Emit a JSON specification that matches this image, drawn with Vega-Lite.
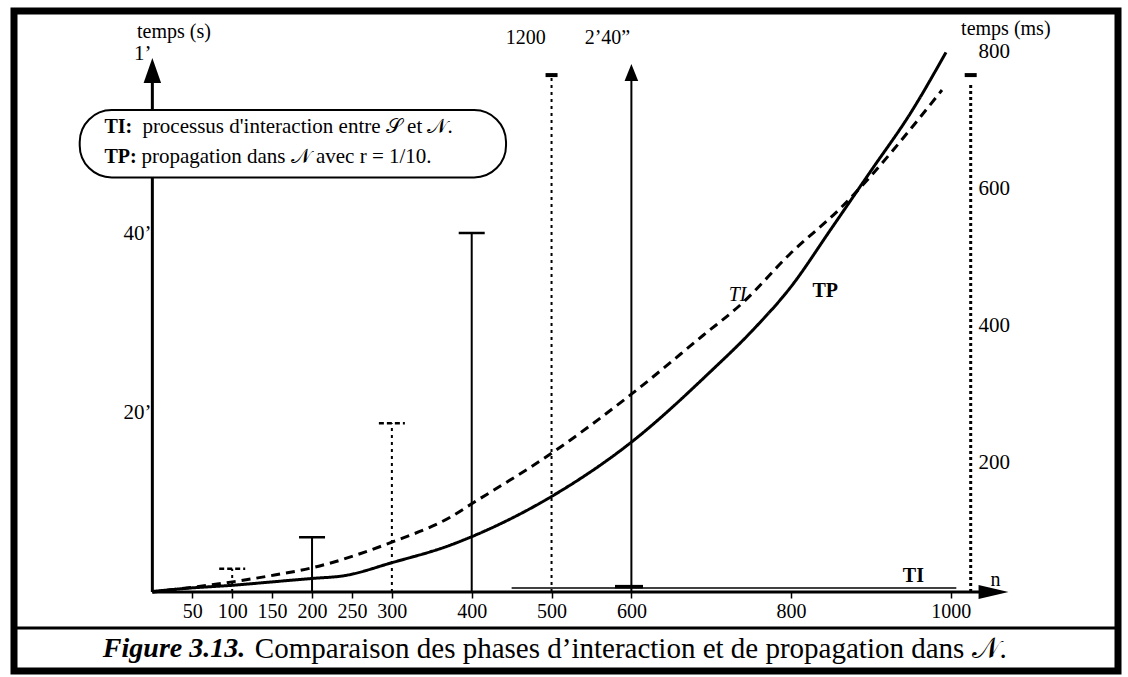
{
  "$schema": "https://vega.github.io/schema/vega-lite/v6.json",
  "width": 1128,
  "height": 677,
  "autosize": {"type": "fit", "contains": "padding"},
  "padding": {"left": 11, "top": 11, "right": 8, "bottom": 6},
  "background": "white",
  "config": {
    "view": {"stroke": "black", "strokeWidth": 7},
    "axis": {"labelFont": "Liberation Serif", "labelColor": "black", "labelFontSize": 20, "grid": false},
    "text": {"font": "Liberation Serif", "fontSize": 20, "color": "black"}
  },
  "datasets": {
    "bars": [
      {"n": 100, "base": 0, "top": 2.6, "kind": "TI"},
      {"n": 200, "base": 0, "top": 6.1, "kind": "TP"},
      {"n": 300, "base": 0, "top": 18.8, "kind": "TI"},
      {"n": 400, "base": 0, "top": 40.0, "kind": "TP"},
      {"n": 500, "base": 0, "top": 57.3, "kind": "TI"},
      {"n": 600, "base": 0, "top": 57.0, "kind": "TP"}
    ],
    "caps": [
      {"n": 100, "v": 2.6, "kind": "TI"},
      {"n": 200, "v": 6.1, "kind": "TP"},
      {"n": 300, "v": 18.8, "kind": "TI"},
      {"n": 400, "v": 40.0, "kind": "TP"}
    ],
    "topcaps": [{"n": 500, "v": 57.6}, {"n": 1025, "v": 57.6}],
    "curves": [
      {"n": 0, "ms": 11, "series": "TP"}, {"n": 47, "ms": 16, "series": "TP"},
      {"n": 100, "ms": 20, "series": "TP"}, {"n": 150, "ms": 25, "series": "TP"}, {"n": 200, "ms": 30, "series": "TP"},
      {"n": 240, "ms": 34, "series": "TP"}, {"n": 300, "ms": 53, "series": "TP"}, {"n": 374, "ms": 79, "series": "TP"},
      {"n": 400, "ms": 91, "series": "TP"}, {"n": 499, "ms": 149, "series": "TP"}, {"n": 600, "ms": 229, "series": "TP"},
      {"n": 700, "ms": 333, "series": "TP"}, {"n": 750, "ms": 390, "series": "TP"}, {"n": 800, "ms": 456, "series": "TP"},
      {"n": 850, "ms": 540, "series": "TP"}, {"n": 900, "ms": 625, "series": "TP"}, {"n": 950, "ms": 710, "series": "TP"},
      {"n": 994, "ms": 798, "series": "TP"},
      {"n": 0, "ms": 10, "series": "TI"}, {"n": 21, "ms": 13, "series": "TI"}, {"n": 100, "ms": 25, "series": "TI"},
      {"n": 153, "ms": 35, "series": "TI"}, {"n": 198, "ms": 45, "series": "TI"}, {"n": 300, "ms": 83, "series": "TI"},
      {"n": 374, "ms": 120, "series": "TI"}, {"n": 400, "ms": 139, "series": "TI"}, {"n": 499, "ms": 212, "series": "TI"},
      {"n": 600, "ms": 299, "series": "TI"}, {"n": 690, "ms": 385, "series": "TI"}, {"n": 739, "ms": 432, "series": "TI"},
      {"n": 798, "ms": 503, "series": "TI"}, {"n": 864, "ms": 573, "series": "TI"}, {"n": 898, "ms": 615, "series": "TI"},
      {"n": 951, "ms": 688, "series": "TI"}, {"n": 989, "ms": 743, "series": "TI"}
    ]
  },
  "resolve": {"scale": {"x": "independent", "y": "independent", "strokeDash": "independent"}, "axis": {"x": "independent", "y": "independent"}},
  "layer": [
    {
      "data": {"values": [{"n": 0, "v0": 0, "v1": 58}]},
      "mark": {"type": "rule", "strokeWidth": 3, "color": "black"},
      "encoding": {
        "x": {"field": "n", "type": "quantitative", "scale": {"domain": [-173.3, 1209.5], "nice": false, "zero": false},
          "axis": {"orient": "bottom", "offset": -79, "values": [50, 100, 150, 200, 250, 300, 400, 500, 600, 800, 1000], "format": "d",
            "domain": false, "ticks": true, "tickSize": 6, "tickWidth": 1.5, "tickColor": "black", "labelPadding": 3, "labelOverlap": false, "labelFlush": false, "title": null}},
        "y": {"field": "v0", "type": "quantitative", "scale": {"domain": [-8.8, 64.74], "nice": false, "zero": false},
          "axis": {"orient": "left", "offset": -139, "values": [20, 40, 60], "labelExpr": "datum.value == 60 ? '1’' : datum.value + '’'",
            "domain": false, "ticks": false, "labelPadding": 2, "labelFontSize": 21, "labelOverlap": false, "title": null}},
        "y2": {"field": "v1"}
      }
    },
    {
      "data": {"name": "bars"},
      "mark": {"type": "rule", "strokeWidth": 2, "color": "black"},
      "encoding": {
        "x": {"field": "n", "type": "quantitative", "scale": {"domain": [-173.3, 1209.5], "nice": false, "zero": false}, "axis": null},
        "y": {"field": "base", "type": "quantitative", "scale": {"domain": [-8.8, 64.74], "nice": false, "zero": false}, "axis": null},
        "y2": {"field": "top"},
        "strokeDash": {"field": "kind", "type": "nominal", "scale": {"domain": ["TI", "TP"], "range": [[3, 4], [1, 0]]}, "legend": null}
      }
    },
    {
      "data": {"name": "caps"},
      "mark": {"type": "point", "shape": "M-1,0L1,0", "size": 676, "filled": false, "strokeWidth": 2.5, "stroke": "black", "opacity": 1},
      "encoding": {
        "x": {"field": "n", "type": "quantitative", "scale": {"domain": [-173.3, 1209.5], "nice": false, "zero": false}, "axis": null},
        "y": {"field": "v", "type": "quantitative", "scale": {"domain": [-8.8, 64.74], "nice": false, "zero": false}, "axis": null},
        "strokeDash": {"field": "kind", "type": "nominal", "scale": {"domain": ["TI", "TP"], "range": [[5, 3], [1, 0]]}, "legend": null}
      }
    },
    {
      "data": {"name": "topcaps"},
      "mark": {"type": "point", "shape": "M-1,0L1,0", "size": 144, "filled": false, "strokeWidth": 4, "stroke": "black", "opacity": 1},
      "encoding": {
        "x": {"field": "n", "type": "quantitative", "scale": {"domain": [-173.3, 1209.5], "nice": false, "zero": false}, "axis": null},
        "y": {"field": "v", "type": "quantitative", "scale": {"domain": [-8.8, 64.74], "nice": false, "zero": false}, "axis": null}
      }
    },
    {
      "data": {"values": [{"n": 1025, "v0": 0, "v1": 56.5}]},
      "mark": {"type": "rule", "strokeWidth": 3, "strokeDash": [3, 3], "color": "black"},
      "encoding": {
        "x": {"field": "n", "type": "quantitative", "scale": {"domain": [-173.3, 1209.5], "nice": false, "zero": false}, "axis": null},
        "y": {"field": "v0", "type": "quantitative", "scale": {"domain": [-8.8, 64.74], "nice": false, "zero": false}, "axis": null},
        "y2": {"field": "v1"}
      }
    },
    {
      "data": {"values": [{"x0": 0, "x1": 1050, "v": 0}]},
      "mark": {"type": "rule", "strokeWidth": 3, "color": "black"},
      "encoding": {
        "x": {"field": "x0", "type": "quantitative", "scale": {"domain": [-173.3, 1209.5], "nice": false, "zero": false}, "axis": null},
        "x2": {"field": "x1"},
        "y": {"field": "v", "type": "quantitative", "scale": {"domain": [-8.8, 64.74], "nice": false, "zero": false}, "axis": null}
      }
    },
    {
      "data": {"values": [{"n": 1053.6, "v": 0}]},
      "mark": {"type": "point", "shape": "M-1,-0.47L1,0L-1,0.47Z", "size": 900, "filled": true, "color": "black", "opacity": 1},
      "encoding": {
        "x": {"field": "n", "type": "quantitative", "scale": {"domain": [-173.3, 1209.5], "nice": false, "zero": false}, "axis": null},
        "y": {"field": "v", "type": "quantitative", "scale": {"domain": [-8.8, 64.74], "nice": false, "zero": false}, "axis": null}
      }
    },
    {
      "data": {"values": [{"n": 0, "v": 58.1}]},
      "mark": {"type": "point", "shape": "M0,-1L0.7,1L-0.7,1Z", "size": 625, "filled": true, "color": "black", "opacity": 1},
      "encoding": {
        "x": {"field": "n", "type": "quantitative", "scale": {"domain": [-173.3, 1209.5], "nice": false, "zero": false}, "axis": null},
        "y": {"field": "v", "type": "quantitative", "scale": {"domain": [-8.8, 64.74], "nice": false, "zero": false}, "axis": null}
      }
    },
    {
      "data": {"values": [{"n": 600, "v": 57.9}]},
      "mark": {"type": "point", "shape": "M0,-1L0.8,1L-0.8,1Z", "size": 289, "filled": true, "color": "black", "opacity": 1},
      "encoding": {
        "x": {"field": "n", "type": "quantitative", "scale": {"domain": [-173.3, 1209.5], "nice": false, "zero": false}, "axis": null},
        "y": {"field": "v", "type": "quantitative", "scale": {"domain": [-8.8, 64.74], "nice": false, "zero": false}, "axis": null}
      }
    },
    {
      "data": {"values": [{"n": 450, "v": 0.45}, {"n": 1007, "v": 0.45}]},
      "mark": {"type": "line", "strokeWidth": 1.5, "color": "black"},
      "encoding": {
        "x": {"field": "n", "type": "quantitative", "scale": {"domain": [-173.3, 1209.5], "nice": false, "zero": false}, "axis": null},
        "y": {"field": "v", "type": "quantitative", "scale": {"domain": [-8.8, 64.74], "nice": false, "zero": false}, "axis": null}
      }
    },
    {
      "data": {"values": [{"n": 597, "v": 0.6}]},
      "mark": {"type": "point", "shape": "M-1,0L1,0", "size": 784, "filled": false, "strokeWidth": 3.5, "stroke": "black", "opacity": 1},
      "encoding": {
        "x": {"field": "n", "type": "quantitative", "scale": {"domain": [-173.3, 1209.5], "nice": false, "zero": false}, "axis": null},
        "y": {"field": "v", "type": "quantitative", "scale": {"domain": [-8.8, 64.74], "nice": false, "zero": false}, "axis": null}
      }
    },
    {
      "data": {"values": [{"x0": -91, "x1": 443, "v0": 53.7, "v1": 46.2}]},
      "mark": {"type": "rect", "cornerRadius": 32, "fill": "white", "stroke": "black", "strokeWidth": 2},
      "encoding": {
        "x": {"field": "x0", "type": "quantitative", "scale": {"domain": [-173.3, 1209.5], "nice": false, "zero": false}, "axis": null},
        "x2": {"field": "x1"},
        "y": {"field": "v0", "type": "quantitative", "scale": {"domain": [-8.8, 64.74], "nice": false, "zero": false}, "axis": null},
        "y2": {"field": "v1"}
      }
    },
    {
      "data": {"values": [{"n": -60, "v": 51.8, "t": "TI:"}, {"n": -60, "v": 48.5, "t": "TP:"}, {"n": 826.7, "v": 33.5, "t": "TP"}, {"n": 940, "v": 1.8, "t": "TI"}]},
      "mark": {"type": "text", "align": "left", "baseline": "middle", "fontWeight": "bold", "fontSize": 20},
      "encoding": {
        "x": {"field": "n", "type": "quantitative", "scale": {"domain": [-173.3, 1209.5], "nice": false, "zero": false}, "axis": null},
        "y": {"field": "v", "type": "quantitative", "scale": {"domain": [-8.8, 64.74], "nice": false, "zero": false}, "axis": null},
        "text": {"field": "t"}
      }
    },
    {
      "data": {"values": [
        {"n": -12.5, "v": 51.8, "t": "processus d'interaction entre 𝒮 et 𝒩."},
        {"n": -13.7, "v": 48.5, "t": "propagation dans 𝒩 avec r = 1/10."}
      ]},
      "mark": {"type": "text", "align": "left", "baseline": "middle", "fontSize": 21},
      "encoding": {
        "x": {"field": "n", "type": "quantitative", "scale": {"domain": [-173.3, 1209.5], "nice": false, "zero": false}, "axis": null},
        "y": {"field": "v", "type": "quantitative", "scale": {"domain": [-8.8, 64.74], "nice": false, "zero": false}, "axis": null},
        "text": {"field": "t"}
      }
    },
    {
      "data": {"values": [
        {"n": 27, "v": 62.4, "t": "temps (s)"},
        {"n": 1069, "v": 62.7, "t": "temps (ms)"},
        {"n": 467.6, "v": 61.7, "t": "1200"},
        {"n": 570, "v": 61.7, "t": "2’40”"},
        {"n": 1056, "v": 1.3, "t": "n"}
      ]},
      "mark": {"type": "text", "align": "center", "baseline": "middle", "fontSize": 20},
      "encoding": {
        "x": {"field": "n", "type": "quantitative", "scale": {"domain": [-173.3, 1209.5], "nice": false, "zero": false}, "axis": null},
        "y": {"field": "v", "type": "quantitative", "scale": {"domain": [-8.8, 64.74], "nice": false, "zero": false}, "axis": null},
        "text": {"field": "t"}
      }
    },
    {
      "data": {"values": [{"n": 733, "v": 33.1, "t": "TI"}]},
      "mark": {"type": "text", "align": "center", "baseline": "middle", "fontStyle": "italic", "fontSize": 20},
      "encoding": {
        "x": {"field": "n", "type": "quantitative", "scale": {"domain": [-173.3, 1209.5], "nice": false, "zero": false}, "axis": null},
        "y": {"field": "v", "type": "quantitative", "scale": {"domain": [-8.8, 64.74], "nice": false, "zero": false}, "axis": null},
        "text": {"field": "t"}
      }
    },
    {
      "data": {"values": [{"x0": -175, "x1": 1210, "v": -4.0}]},
      "mark": {"type": "rule", "strokeWidth": 3, "color": "black"},
      "encoding": {
        "x": {"field": "x0", "type": "quantitative", "scale": {"domain": [-173.3, 1209.5], "nice": false, "zero": false}, "axis": null},
        "x2": {"field": "x1"},
        "y": {"field": "v", "type": "quantitative", "scale": {"domain": [-8.8, 64.74], "nice": false, "zero": false}, "axis": null}
      }
    },
    {
      "data": {"values": [{"n": -62, "v": -6.35, "t": "Figure 3.13."}]},
      "mark": {"type": "text", "align": "left", "baseline": "middle", "fontWeight": "bold", "fontStyle": "italic", "fontSize": 28},
      "encoding": {
        "x": {"field": "n", "type": "quantitative", "scale": {"domain": [-173.3, 1209.5], "nice": false, "zero": false}, "axis": null},
        "y": {"field": "v", "type": "quantitative", "scale": {"domain": [-8.8, 64.74], "nice": false, "zero": false}, "axis": null},
        "text": {"field": "t"}
      }
    },
    {
      "data": {"values": [{"n": 128.4, "v": -6.35, "t": "Comparaison des phases d’interaction et de propagation dans 𝒩."}]},
      "mark": {"type": "text", "align": "left", "baseline": "middle", "fontSize": 29},
      "encoding": {
        "x": {"field": "n", "type": "quantitative", "scale": {"domain": [-173.3, 1209.5], "nice": false, "zero": false}, "axis": null},
        "y": {"field": "v", "type": "quantitative", "scale": {"domain": [-8.8, 64.74], "nice": false, "zero": false}, "axis": null},
        "text": {"field": "t"}
      }
    },
    {
      "data": {"name": "curves"},
      "mark": {"type": "line", "strokeWidth": 3, "color": "black", "interpolate": "monotone"},
      "encoding": {
        "x": {"field": "n", "type": "quantitative", "scale": {"domain": [-173.3, 1209.5], "nice": false, "zero": false}, "axis": null},
        "y": {"field": "ms", "type": "quantitative", "scale": {"domain": [-105.1, 858.4], "nice": false, "zero": false},
          "axis": {"orient": "right", "offset": -148, "values": [200, 400, 600, 800], "domain": false, "ticks": false, "labelPadding": 8, "labelAlign": "left", "labelFontSize": 21, "title": null}},
        "detail": {"field": "series", "type": "nominal"},
        "strokeDash": {"field": "series", "type": "nominal", "scale": {"domain": ["TI", "TP"], "range": [[9, 6], [1, 0]]}, "legend": null}
      }
    }
  ]
}
